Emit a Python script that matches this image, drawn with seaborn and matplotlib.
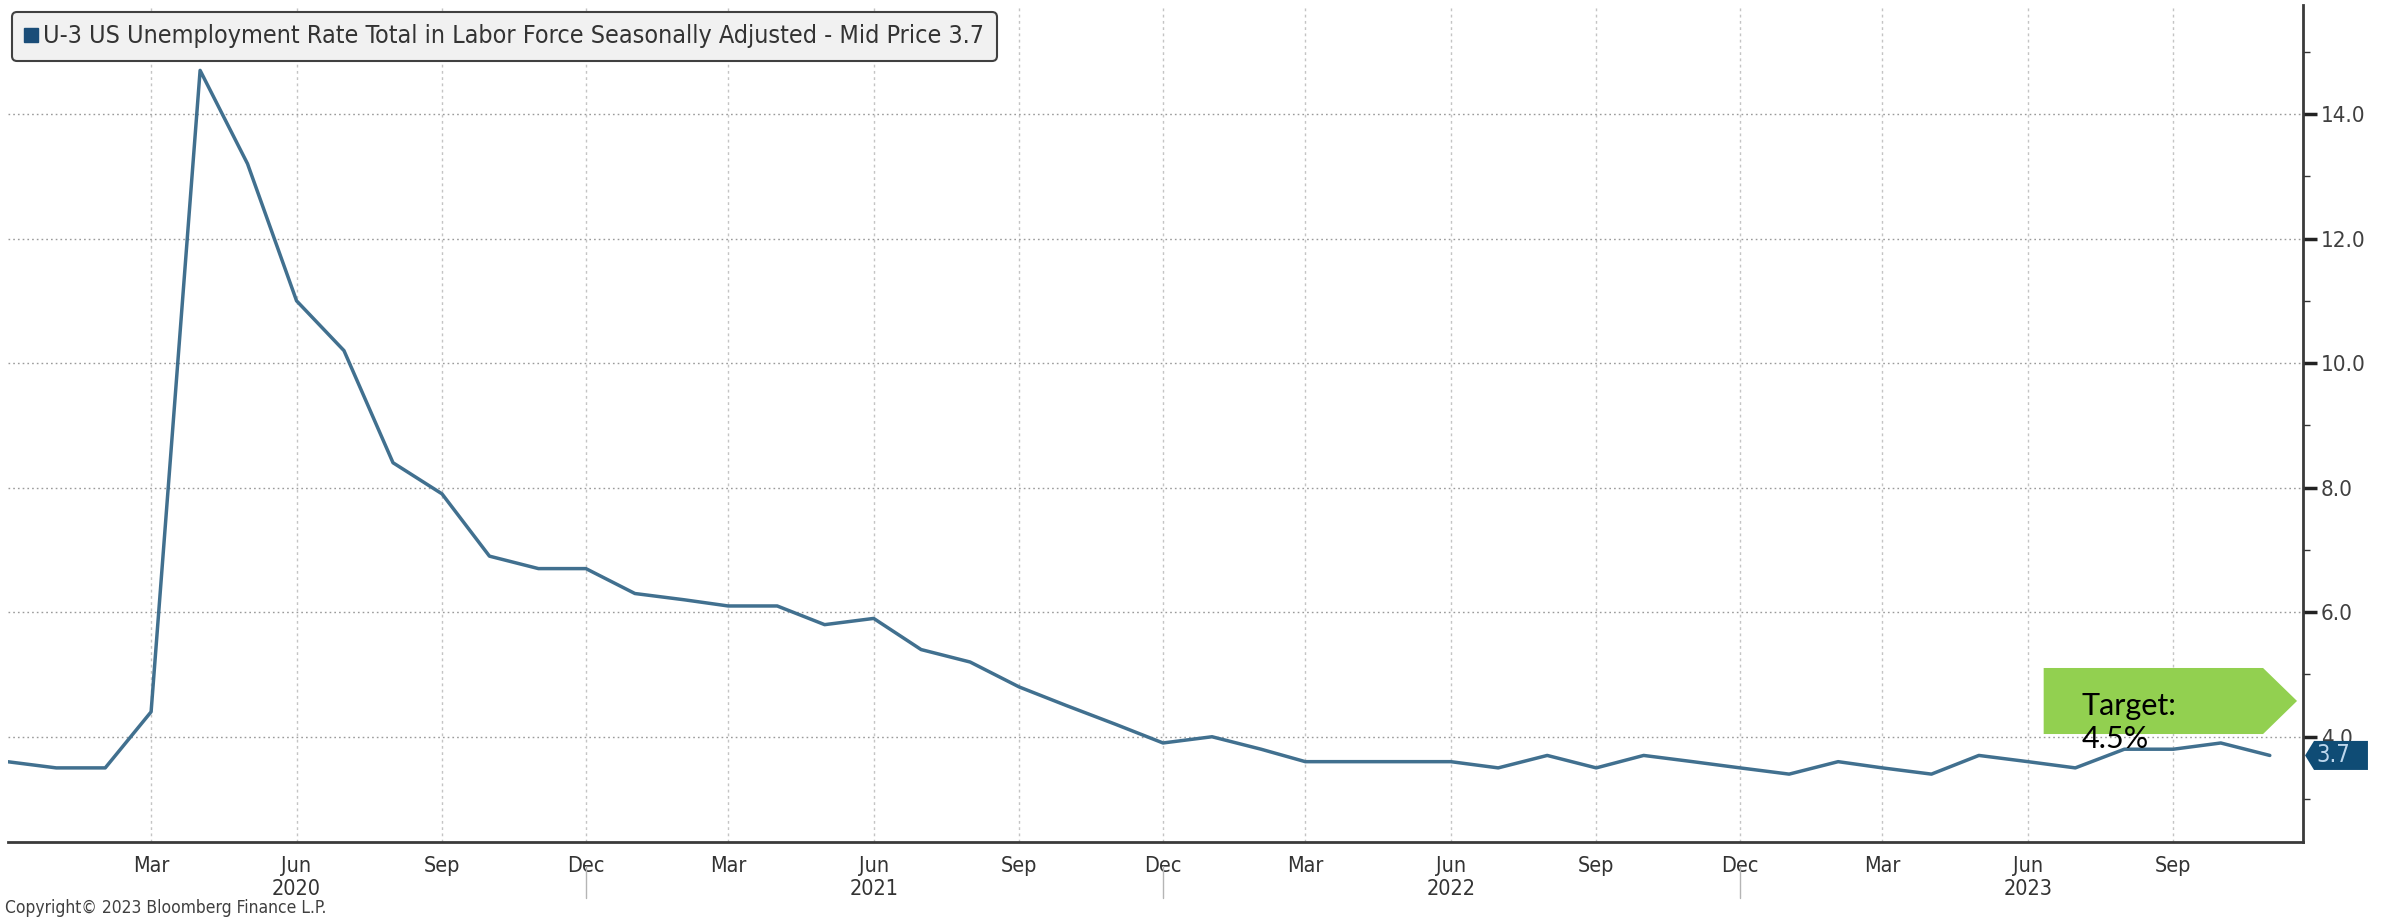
import matplotlib
matplotlib.use("Agg")
import matplotlib.pyplot as plt
import matplotlib.dates as mdates
import matplotlib.transforms as mtransforms
from matplotlib import font_manager as fm
from matplotlib.lines import Line2D
from matplotlib.patches import Polygon
from matplotlib.ticker import FuncFormatter, MultipleLocator
import numpy as np
import pandas as pd
import seaborn as sns

# ---------------- data ----------------
months = pd.date_range("2019-12-01", "2023-11-01", freq="MS")
rate = [3.6, 3.5, 3.5, 4.4, 14.7, 13.2, 11.0, 10.2, 8.4, 7.9, 6.9, 6.7, 6.7,
        6.3, 6.2, 6.1, 6.1, 5.8, 5.9, 5.4, 5.2, 4.8, 4.5, 4.2, 3.9,
        4.0, 3.8, 3.6, 3.6, 3.6, 3.6, 3.5, 3.7, 3.5, 3.7, 3.6, 3.5,
        3.4, 3.6, 3.5, 3.4, 3.7, 3.6, 3.5, 3.8, 3.8, 3.9, 3.7]
y_ticks = [4.0, 6.0, 8.0, 10.0, 12.0, 14.0]
legend_label = "U-3 US Unemployment Rate Total in Labor Force Seasonally Adjusted - Mid Price 3.7"
target_label = ["Target:", "4.5%"]
copyright_text = "Copyright\u00a9 2023 Bloomberg Finance L.P."

df = pd.DataFrame({"date": months, "rate": rate})

# ---------------- style / fonts ----------------
sns.set_theme(style="white")


def pick_condensed():
    prefs = ["dejavusanscondensed.ttf", "liberationsansnarrow-regular.ttf",
             "robotocondensed-regular.ttf", "opensans_condensed-regular.ttf",
             "notosans-condensed.ttf"]
    entries = fm.fontManager.ttflist
    for p in prefs:
        for e in entries:
            if e.fname.lower().endswith(p):
                return e
    for e in entries:
        fn = e.fname.lower()
        if ("condensed" in fn or "narrow" in fn) and not any(
                k in fn for k in ["bold", "oblique", "italic", "light", "black", "medium", "thin"]):
            return e
    return None


cond = pick_condensed()
if cond is not None:
    plt.rcParams["font.family"] = [cond.name, "DejaVu Sans"]
    plt.rcParams["font.stretch"] = cond.stretch
    base_size = 15.5
else:
    plt.rcParams["font.family"] = ["DejaVu Sans"]
    base_size = 14

W, H = 2386, 918
fig = plt.figure(figsize=(W / 100, H / 100), dpi=100)
ax_left, ax_right, ax_bottom, ax_top = 8, 2303, 842, 5
ax = fig.add_axes([ax_left / W, 1 - ax_bottom / H, (ax_right - ax_left) / W, (ax_bottom - ax_top) / H])

line_color = "#41708f"
sns.lineplot(data=df, x="date", y="rate", ax=ax, color=line_color, linewidth=2.5, legend=False)

# limits
ax.set_xlim(pd.Timestamp("2019-12-01 12:00"), pd.Timestamp("2023-11-22"))
ax.set_ylim(2.31, 15.75)

# x ticks
ax.xaxis.set_major_locator(mdates.MonthLocator(bymonth=[3, 6, 9, 12]))
ax.xaxis.set_minor_locator(mdates.MonthLocator())


def fmt(x, pos):
    d = mdates.num2date(x)
    s = d.strftime("%b")
    if d.month == 6:
        s += "\n" + str(d.year)
    return s


ax.xaxis.set_major_formatter(FuncFormatter(fmt))
ax.set_xlabel("")
ax.set_ylabel("")

# y axis on right
ax.yaxis.tick_right()
ax.set_yticks(y_ticks)
ax.yaxis.set_minor_locator(MultipleLocator(1.0))
ax.yaxis.set_major_formatter(FuncFormatter(lambda v, p: f"{v:.1f}"))

tick_col = "#333333"
ax.tick_params(axis="x", which="both", direction="out", length=5, width=1.2,
               color=tick_col, labelcolor=tick_col, labelsize=base_size, pad=5)
ax.tick_params(axis="y", which="major", direction="out", length=10, width=2.5,
               color="#222222", labelcolor="#404040", labelsize=base_size + 0.5, pad=3)
ax.tick_params(axis="y", which="minor", direction="out", length=5, width=1,
               color=tick_col)

# spines
for s in ["left", "top"]:
    ax.spines[s].set_visible(False)
for s in ["right", "bottom"]:
    ax.spines[s].set_color("#3a3a3a")
    ax.spines[s].set_linewidth(2)

# grid
ax.grid(axis="y", which="major", linestyle=(0, (1.2, 2.2)), color="#9a9a9a", linewidth=1)
ax.grid(axis="x", which="major", linestyle=(0, (2, 2.5)), color="#c4c4c4", linewidth=1)
ax.set_axisbelow(True)

# year separators below the axis (at Dec ticks)
blend_x = mtransforms.blended_transform_factory(ax.transData, ax.transAxes)
for d in months[1:]:
    if d.month == 12:
        ax.plot([d, d], [-(866 - ax_bottom) / (ax_bottom - ax_top), -(898 - ax_bottom) / (ax_bottom - ax_top)],
                transform=blend_x, clip_on=False, color="#b5b5b5", linewidth=1)

# legend
handle = Line2D([], [], marker="s", linestyle="", color="#1a4d78", markersize=10)
leg = ax.legend([handle], [legend_label], loc="upper left",
                bbox_to_anchor=((12 - ax_left) / (ax_right - ax_left), (ax_bottom - 12) / (ax_bottom - ax_top)),
                borderaxespad=0, frameon=True, fancybox=True, facecolor="#f1f1f1",
                edgecolor="#404040", framealpha=1, fontsize=18,
                handlelength=0.55, handletextpad=0.2, borderpad=0.5)
leg.get_frame().set_linewidth(1.5)
for t in leg.get_texts():
    t.set_color("#333333")

# last value badge on the right axis
last = rate[-1]
blend_y = mtransforms.blended_transform_factory(ax.transAxes, ax.transData)
h = 0.233
bx0, bx1, bx2 = 1.0009, 1.0048, 1.0283
badge = Polygon([(bx0, last), (bx1, last + h), (bx2, last + h), (bx2, last - h), (bx1, last - h)],
                closed=True, transform=blend_y, clip_on=False, facecolor="#0f4c75",
                edgecolor="none", zorder=10)
ax.add_patch(badge)
ax.text(1.0058, last, f"{last:.1f}", transform=blend_y, ha="left", va="center",
        color="#bcd6ec", fontsize=base_size + 1.5, zorder=11, clip_on=False)

# target callout
tx0, tx1, tx2 = 0.887, 0.9826, 0.9974
ty0, ty1, tym = 0.129, 0.2079, 0.1685
arrow = Polygon([(tx0, ty0), (tx0, ty1), (tx1, ty1), (tx2, tym), (tx1, ty0)], closed=True,
                transform=ax.transAxes, facecolor="#92d050", edgecolor="none", zorder=4)
ax.add_patch(arrow)
ax.text(0.9037, 0.1517, target_label[0], transform=ax.transAxes, ha="left", va="baseline",
        fontsize=22, color="black", family=["Lato", "DejaVu Sans"], zorder=5)
ax.text(0.9037, 0.1123, target_label[1], transform=ax.transAxes, ha="left", va="baseline",
        fontsize=22, color="black", family=["Lato", "DejaVu Sans"], zorder=5)

# copyright
fig.text(5 / W, 1 - 908 / H, copyright_text, fontsize=12.5, color="#404040", va="center", ha="left")

fig.savefig("out.png", dpi=100)
